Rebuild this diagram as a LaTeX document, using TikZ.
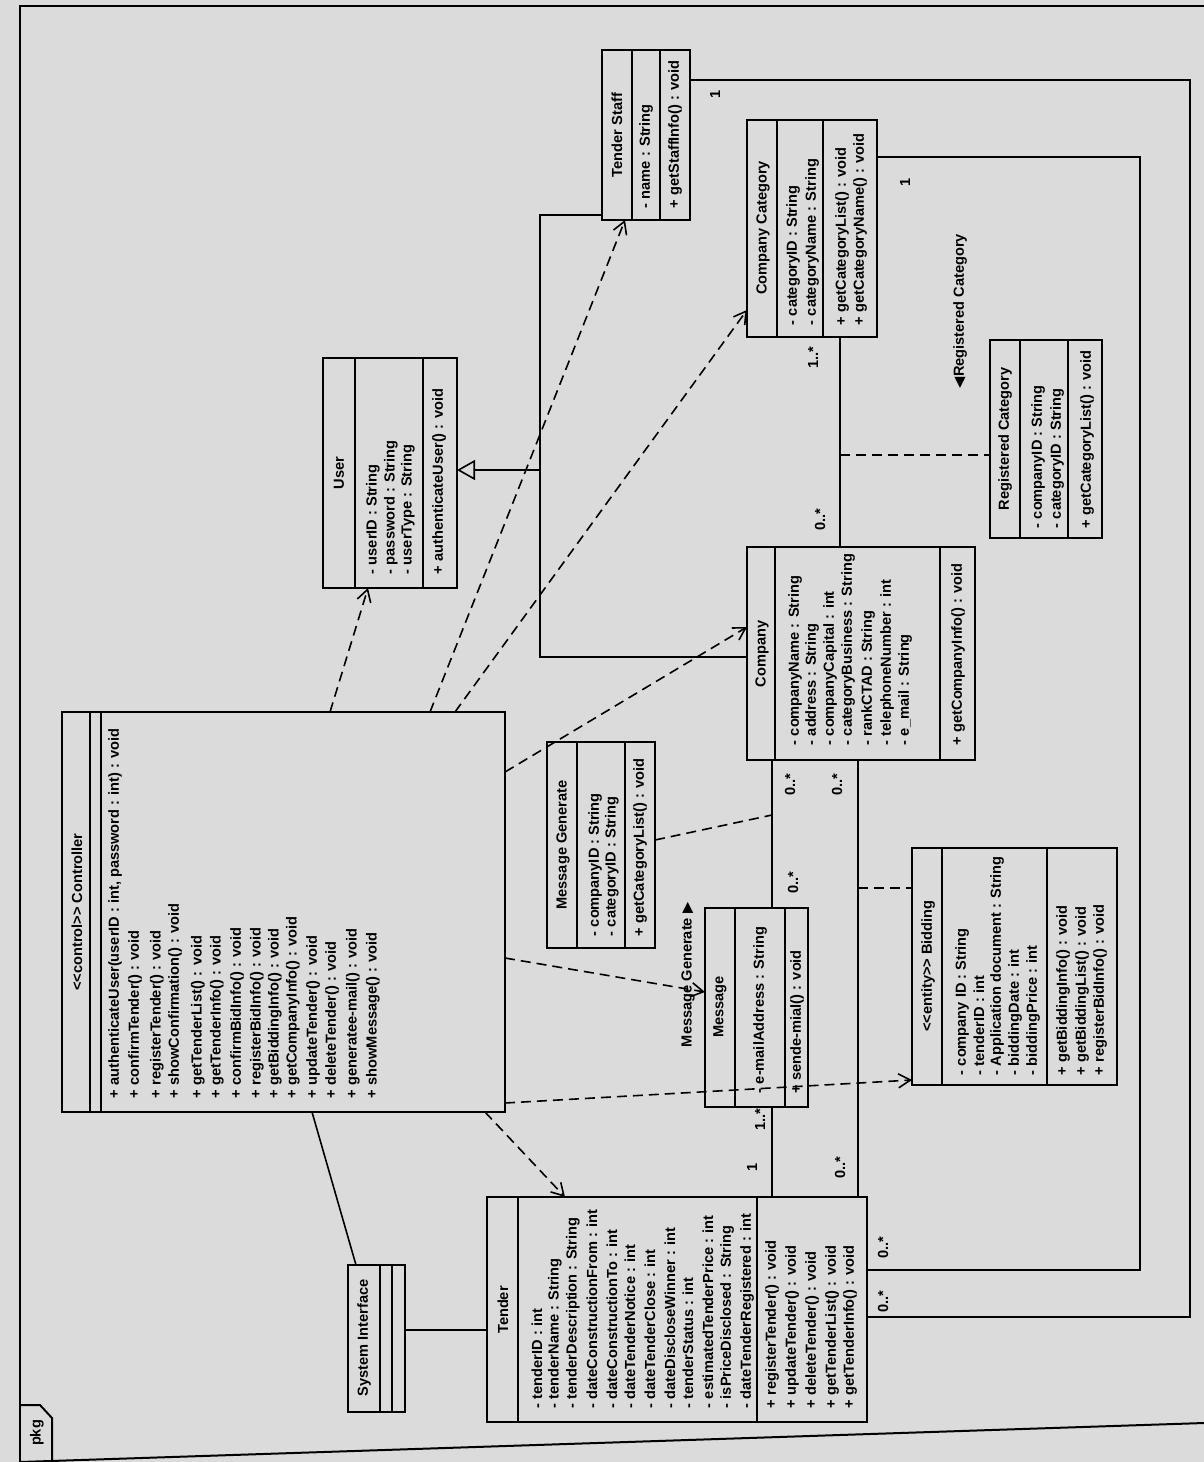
\documentclass[tikz,border=0pt]{standalone}
\usepackage{fontspec}
\setmainfont{Liberation Sans}
\newfontfamily\symfont{DejaVu Sans}
\usetikzlibrary{arrows.meta}
\definecolor{paper}{gray}{0.86}
\newcommand\clsnode[5]{\node[clsbox, minimum width={(#4-#2)*0.5pt}, minimum height={(#5-#3)*0.5pt}] (#1) at ({(#2+#4)/2},{(#3+#5)/2}) {};}
\newcommand\csep[2]{\draw[sep] (#1.north -| #2,0) -- (#1.south -| #2,0);}
\newcommand\members[3]{\foreach \mx/\mt [count=\mi] in {#3} {\node[mem] (#1\mi) at (\mx,#2) {\mt};}}
\begin{document}
\begin{tikzpicture}[x=0.5pt,y=-0.5pt,
  every node/.style={font=\fontsize{7.3}{8.5}\selectfont\bfseries, inner sep=0pt, outer sep=0pt},
  clsbox/.style={draw, line width=1.3pt},
  sep/.style={line width=0.9pt},
  mem/.style={rotate=90, anchor=west},
  ttl/.style={rotate=90, anchor=center},
  mult/.style={rotate=90, anchor=center},
  assoc/.style={line width=0.8pt},
  dep/.style={line width=0.8pt, dash pattern=on 5pt off 3pt, -{Straight Barb[length=6pt,width=7pt,line width=0.8pt]}},
  acls/.style={line width=0.8pt, dash pattern=on 5pt off 3pt},
  gen/.style={line width=0.8pt, -{Triangle[open,length=9pt,width=10pt,line width=0.8pt]}}
]
\fill[paper] (0,0) rectangle (1204,1462);
\useasboundingbox (0,0) rectangle (1204,1462);

% frame
\draw[line width=1pt] (1204,6) -- (20,6) -- (20,1462);
\draw[line width=1pt] (20,1462) -- (1204,1423);
\draw[line width=1pt] (20,1405) -- (40,1405) -- (52,1418) -- (52,1461);
\node[ttl] (pkg) at (37,1433) {pkg};

% Controller
\clsnode{ctrl}{62}{712}{505}{1112}
\csep{ctrl}{90}
\csep{ctrl}{101}
\node[ttl] (ctrlname) at (77,912) {<{}<control>{}> Controller};
\members{ctrlm}{1098}{115/{+ authenticateUser(userID : int, password : int) : void},
  135/{+ confirmTender() : void}, 157/{+ registerTender() : void}, 175/{+ showConfirmation() : void},
  198/{+ getTenderList() : void}, 217/{+ getTenderInfo() : void}, 237/{+ confirmBidInfo() : void},
  257/{+ registerBidInfo() : void}, 275/{+ getBiddingInfo() : void}, 293/{+ getCompanyInfo() : void},
  313/{+ updateTender() : void}, 332/{+ deleteTender() : void}, 353/{+ generatee-mail() : void},
  373/{+ showMessage() : void}}

% Tender
\clsnode{tender}{487}{1197}{867}{1422}
\csep{tender}{518}
\csep{tender}{757}
\node[ttl] (tendername) at (503,1310) {Tender};
\members{tendera}{1408}{537/{- tenderID : int}, 555/{- tenderName : String}, 573/{- tenderDescription : String},
  592/{- dateConstructionFrom : int}, 612/{- dateConstructionTo : int}, 630/{- dateTenderNotice : int},
  650/{- dateTenderClose : int}, 670/{- dateDiscloseWinner : int}, 688/{- tenderStatus : int},
  708/{- estimatedTenderPrice : int}, 727/{- isPriceDisclosed : String}, 747/{- dateTenderRegistered : int}}
\members{tenderm}{1408}{772/{+ registerTender() : void}, 792/{+ updateTender() : void}, 812/{+ deleteTender() : void},
  832/{+ getTenderList() : void}, 850/{+ getTenderInfo() : void}}

% System Interface
\clsnode{sysint}{348}{1265}{405}{1412}
\csep{sysint}{380}
\csep{sysint}{392}
\node[ttl] (sysintname) at (364,1338) {System Interface};

% User
\clsnode{user}{323}{358}{457}{588}
\csep{user}{355}
\csep{user}{423}
\node[ttl] (username) at (339,473) {User};
\members{usera}{574}{373/{- userID : String}, 391/{- password : String}, 408/{- userType : String}}
\members{userm}{574}{439/{+ authenticateUser() : void}}

% Tender Staff
\clsnode{tstaff}{602}{50}{690}{220}
\csep{tstaff}{632}
\csep{tstaff}{660}
\node[ttl] (tstaffname) at (617,135) {Tender Staff};
\members{tstaffa}{208}{646/{- name : String}}
\members{tstaffm}{208}{675/{+ getStaffInfo() : void}}

% Company Category
\clsnode{ccat}{747}{120}{877}{337}
\csep{ccat}{777}
\csep{ccat}{823}
\node[ttl] (ccatname) at (763,228) {Company Category};
\members{ccata}{325}{793/{- categoryID : String}, 812/{- categoryName : String}}
\members{ccatm}{325}{842/{+ getCategoryList() : void}, 860/{+ getCategoryName() : void}}

% Company
\clsnode{company}{747}{547}{975}{760}
\csep{company}{775}
\csep{company}{940}
\node[ttl] (companyname) at (762,654) {Company};
\members{companya}{745}{795/{- companyName : String}, 812/{- address : String}, 830/{- companyCapital : int},
  848/{- categoryBusiness : String}, 868/{- rankCTAD : String}, 887/{- telephoneNumber : int},
  905/{- e\_mail : String}}
\members{companym}{745}{958/{+ getCompanyInfo() : void}}

% Registered Category
\clsnode{regcat}{990}{340}{1102}{538}
\csep{regcat}{1020}
\csep{regcat}{1068}
\node[ttl] (regcatname) at (1005,439) {Registered Category};
\members{regcata}{528}{1038/{- companyID : String}, 1057/{- categoryID : String}}
\members{regcatm}{528}{1087/{+ getCategoryList() : void}}
\node[mem] (regcatlabel) at (960,388) {{\symfont ◀}Registered Category};

% Message Generate
\clsnode{msggen}{547}{742}{655}{948}
\csep{msggen}{577}
\csep{msggen}{625}
\node[ttl] (msggenname) at (563,845) {Message Generate};
\members{msggena}{936}{595/{- companyID : String}, 612/{- categoryID : String}}
\members{msggenm}{936}{640/{+ getCategoryList() : void}}

% Message
\clsnode{message}{705}{908}{808}{1107}
\csep{message}{735}
\csep{message}{785}
\node[ttl] (messagename) at (720,1007) {Message};
\members{messagea}{1093}{760/{- e-mailAddress : String}}
\members{messagem}{1093}{797/{+ sende-mial() : void}}
\node[mem] (msggenlabel) at (688,1047) {Message Generate {\symfont ▶}};

% Bidding
\clsnode{bidding}{912}{848}{1117}{1085}
\csep{bidding}{942}
\csep{bidding}{1047}
\node[ttl] (biddingname) at (928,966) {<{}<entity>{}> Bidding};
\members{biddinga}{1075}{962/{- company ID : String}, 979/{- tenderID : int}, 997/{- Application document : String},
  1015/{- biddingDate : int}, 1033/{- biddingPrice : int}}
\members{biddingm}{1075}{1063/{+ getBiddingInfo() : void}, 1082/{+ getBiddingList() : void}, 1100/{+ registerBidInfo() : void}}

% generalization
\coordinate (gj) at (540,470);
\draw[gen] (gj) -- (user.east |- gj);
\draw[assoc] (tstaff.west |- 0,215) -| (gj) |- (company.west |- 0,657);

% associations
\draw[assoc] (company.north -| 840,0) -- (ccat.south -| 840,0);
\coordinate (rcj) at (840,455);
\draw[acls] (rcj) -- (regcat.west |- rcj);
\draw[assoc] (company.south -| 772,0) -- (message.north -| 772,0);
\coordinate (mgj) at (772,815);
\draw[acls] (msggen.east |- 0,840) -- (mgj);
\draw[assoc] (message.south -| 772,0) -- (tender.north -| 772,0);
\draw[assoc] (company.south -| 858,0) -- (tender.north -| 858,0);
\coordinate (bj) at (858,888);
\draw[acls] (bj) -- (bidding.west |- bj);
\draw[assoc] (ccat.east |- 0,157) -- (1140,157) -- (1140,1270) -- (tender.east |- 0,1270);
\draw[assoc] (tstaff.east |- 0,80) -- (1190,80) -- (1190,1317) -- (tender.east |- 0,1317);
\draw[assoc] (ctrl.south -| 312,0) -- (sysint.north -| 356,0);
\draw[assoc] (sysint.east |- 0,1330) -- (tender.west |- 0,1330);

% dependencies
\draw[dep] (ctrl.north -| 330,0) -- (user.south -| 368,0);
\draw[dep] (ctrl.north -| 430,0) -- (tstaff.south -| 625,0);
\draw[dep] (ctrl.north -| 455,0) -- (ccat.west |- 0,310);
\draw[dep] (ctrl.east |- 0,772) -- (company.west |- 0,627);
\draw[dep] (ctrl.east |- 0,958) -- (message.west |- 0,992);
\draw[dep] (ctrl.east |- 0,1103) -- (bidding.west |- 0,1080);
\draw[dep] (ctrl.south -| 485,0) -- (tender.north -| 565,0);

% multiplicities
\node[mult] (mu1) at (813,358) {1..*};
\node[mult] (mu2) at (820,520) {0..*};
\node[mult] (mu3) at (790,785) {0..*};
\node[mult] (mu4) at (793,883) {0..*};
\node[mult] (mu5) at (837,785) {0..*};
\node[mult] (mu6) at (840,1168) {0..*};
\node[mult] (mu7) at (760,1120) {1..*};
\node[mult] (mu8) at (752,1167) {1};
\node[mult] (mu9) at (905,182) {1};
\node[mult] (mu10) at (715,94) {1};
\node[mult] (mu11) at (883,1248) {0..*};
\node[mult] (mu12) at (883,1302) {0..*};
\end{tikzpicture}
\end{document}
